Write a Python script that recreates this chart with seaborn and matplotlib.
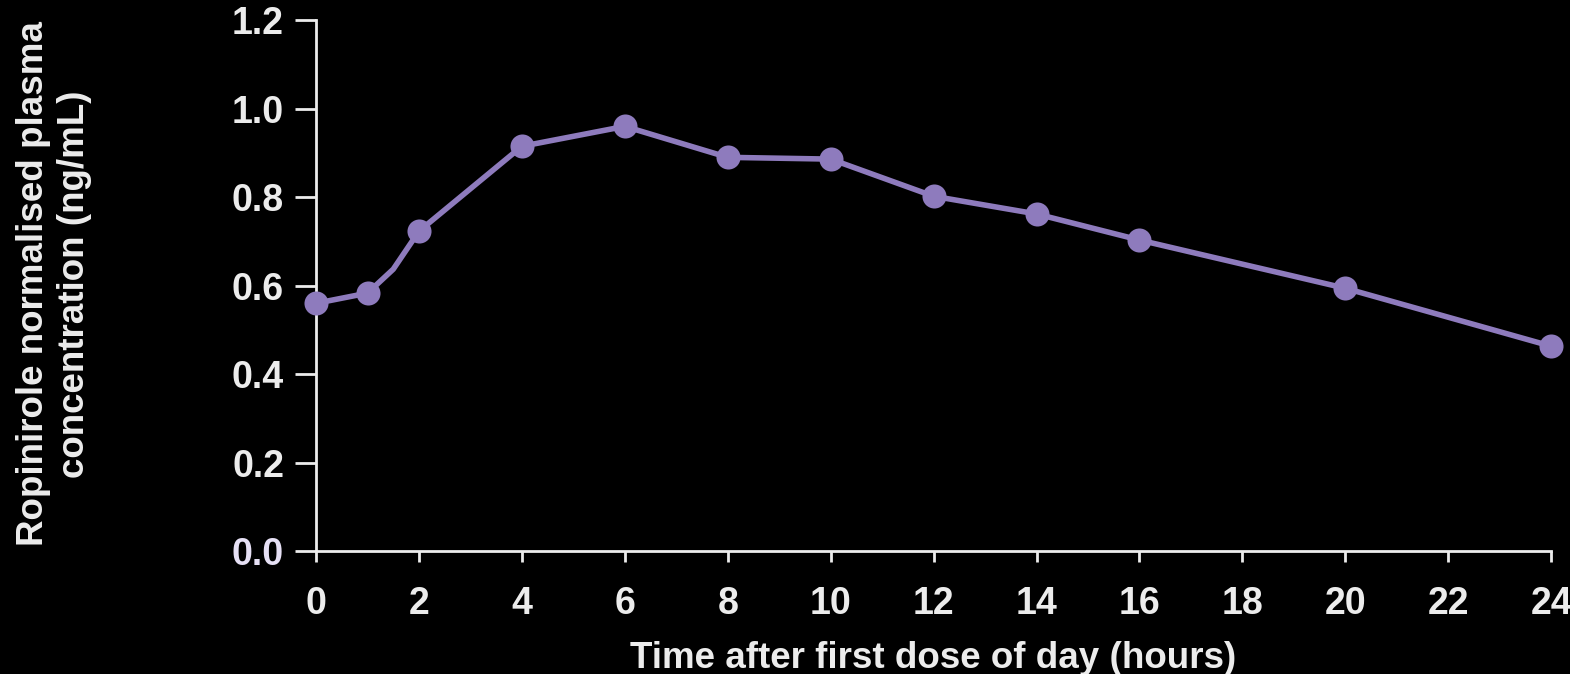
import matplotlib
matplotlib.use("Agg")
import matplotlib.pyplot as plt
import seaborn as sns
import pandas as pd

# Data
hours = [0, 1, 2, 4, 6, 8, 10, 12, 14, 16, 20, 24]
conc = [0.560, 0.583, 0.723, 0.915, 0.960, 0.890, 0.886, 0.802, 0.762, 0.703, 0.594, 0.463]
# the drawn line has an extra unmarked bend between 1 h and 2 h
line_hours = [0, 1, 1.5, 2, 4, 6, 8, 10, 12, 14, 16, 20, 24]
line_conc = [0.560, 0.583, 0.637, 0.723, 0.915, 0.960, 0.890, 0.886, 0.802, 0.762, 0.703, 0.594, 0.463]
x_ticks = [0, 2, 4, 6, 8, 10, 12, 14, 16, 18, 20, 22, 24]
y_ticks = [0.0, 0.2, 0.4, 0.6, 0.8, 1.0, 1.2]
y_tick_labels = ["0.0", "0.2", "0.4", "0.6", "0.8", "1.0", "1.2"]

sns.set_theme(style="ticks")
plt.rcParams['font.family'] = ['Liberation Sans', 'DejaVu Sans']

purple = "#8e7bbd"
fg = "#ececec"

fig = plt.figure(figsize=(15.7, 6.74), dpi=100, facecolor="black")
ax = fig.add_axes([0.2013, 0.1825, 0.7867, 0.7875])
ax.set_facecolor("black")

df_line = pd.DataFrame({"h": line_hours, "c": line_conc})
df_pts = pd.DataFrame({"h": hours, "c": conc})
sns.lineplot(data=df_line, x="h", y="c", ax=ax, color=purple, linewidth=4, sort=False, clip_on=False)
sns.scatterplot(data=df_pts, x="h", y="c", ax=ax, color=purple, s=300, edgecolor=purple, linewidth=0, clip_on=False, zorder=5)

ax.set_xlim(0, 24)
ax.set_ylim(0, 1.2)
ax.set_xticks(x_ticks)
ax.set_xticklabels([str(t) for t in x_ticks])
ax.set_yticks(y_ticks)
ax.set_yticklabels(y_tick_labels)

for s in ["top", "right"]:
    ax.spines[s].set_visible(False)
for s in ["left", "bottom"]:
    ax.spines[s].set_color(fg)
    ax.spines[s].set_linewidth(2)

ax.tick_params(axis="y", length=15, width=2, color=fg, pad=8, labelsize=27, labelcolor=fg)
ax.tick_params(axis="x", length=8, width=2, color=fg, pad=17, labelsize=27, labelcolor=fg)
for lbl in ax.get_xticklabels() + ax.get_yticklabels():
    lbl.set_fontweight("bold")
ax.get_yticklabels()[0].set_color("#e6e0f5")

ax.set_xlabel("Time after first dose of day (hours)", fontsize=26.5, fontweight="bold", color=fg, labelpad=14)
ax.set_ylabel("Ropinirole normalised plasma\nconcentration (ng/mL)", fontsize=26.5, fontweight="bold", color=fg, labelpad=0, linespacing=1.25)
ax.yaxis.set_label_coords(-0.181, 0.503)

fig.savefig("out.png", dpi=100, facecolor="black")
